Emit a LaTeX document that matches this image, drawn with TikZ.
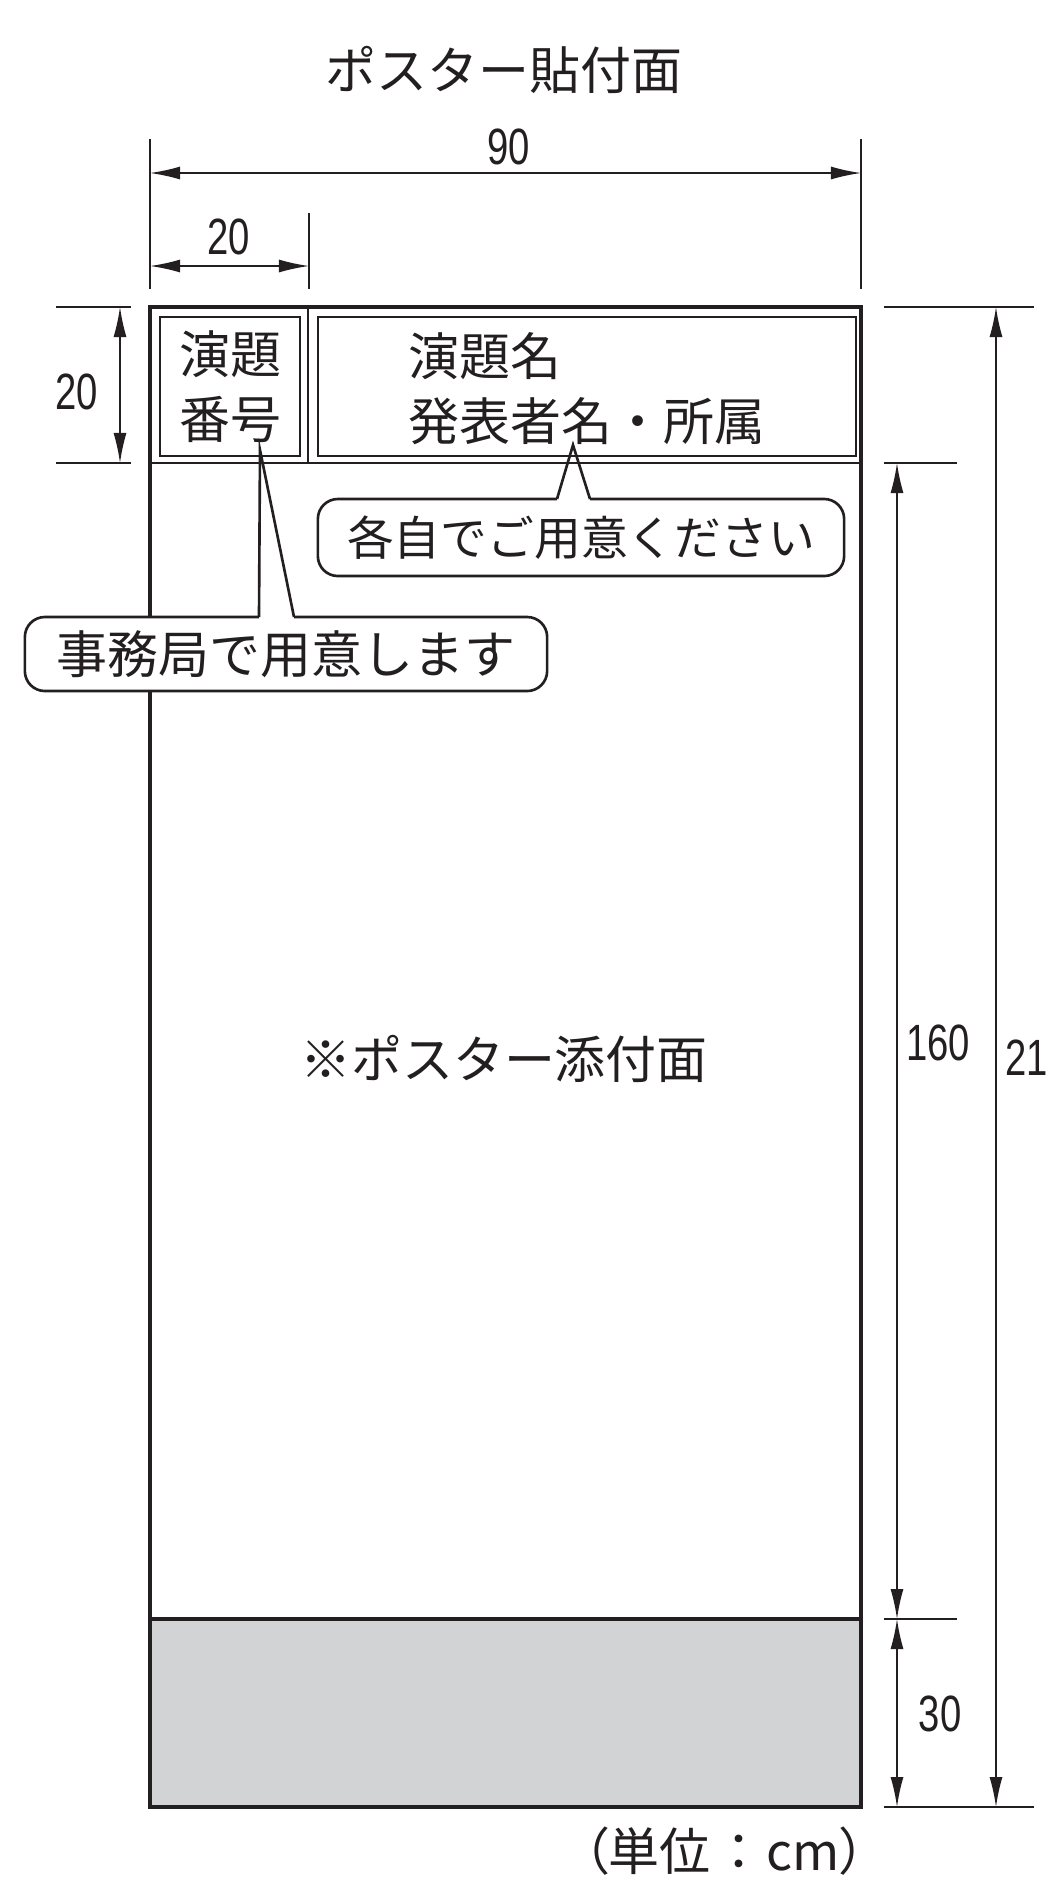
\documentclass[tikz,border=0pt]{standalone}
\usepackage{fontspec}
\newfontfamily\jpfont{Noto Sans CJK JP}
\newfontfamily\jpfontp[RawFeature=+palt]{Noto Sans CJK JP}
\newfontfamily\numfont[FakeStretch=0.75]{Liberation Sans}
\usepackage{tikz}
\usetikzlibrary{arrows.meta,positioning}
\usepackage{xcolor}
\definecolor{pgray}{RGB}{209,211,212}
\definecolor{pline}{RGB}{35,31,32}
\tikzstyle{board} = [line width=1pt, color=pline]
\tikzstyle{thinline} = [line width=0.45pt, color=pline]
\tikzstyle{thinbox} = [rectangle, draw=pline, line width=0.45pt, inner sep=0pt]
\tikzstyle{extline} = [line width=0.4pt, color=pline]
\tikzstyle{dimline} = [line width=0.45pt, color=pline, {Latex[length=3mm,width=1.3mm]}-{Latex[length=3mm,width=1.3mm]}]
\tikzstyle{dimlabel} = [font=\numfont\fontsize{14.5}{16}\selectfont, inner sep=0pt, text=pline]
\tikzstyle{jptext} = [font=\jpfont\fontsize{14.5}{18.5}\selectfont, inner sep=0pt, text=pline]
\tikzstyle{callout} = [rectangle, rounded corners=0.2cm, draw=pline, line width=0.75pt, fill=white, inner sep=0pt]

\begin{document}
\begin{tikzpicture}[x=0.01cm, y=-0.01cm]
\useasboundingbox (0,0) rectangle (1051,1902);

% Board corners
\coordinate (tl) at (150,307);
\coordinate (tr) at (861,307);
\coordinate (bl) at (150,1807);
\coordinate (br) at (861,1807);
\coordinate (hl) at (150,463);
\coordinate (hr) at (861,463);
\coordinate (gl) at (150,1619);
\coordinate (gr) at (861,1619);

% Title
\node (title) [jptext] at (504,70) {ポスター貼付面};

% Gray base strip
\fill[pgray] (gl) rectangle (br);

% Header row
\coordinate (divt) at (308,307);
\coordinate (divb) at (308,463);
\draw[thinline] (hl) -- (hr);
\draw[thinline] (divt) -- (divb);
\node (numbox) [thinbox, minimum width=1.4cm, minimum height=1.39cm] at (230,386.5) {};
\node (namebox) [thinbox, minimum width=5.38cm, minimum height=1.39cm] at (587,386.5) {};
\node (numtext) [jptext, align=center] at (numbox) {演題\\番号};
\node (nametext) [jptext, align=left, anchor=west] at (408,388.5) {演題名\\発表者名・所属};

% Board outline
\draw[board] (tl) rectangle (br);
\draw[board] (gl) -- (gr);

% Main area
\node (mainarea) [jptext] at (504,1059) {※ポスター添付面};

% Callouts
\node (selfnote) [callout, minimum width=5.26cm, minimum height=0.77cm] at (581,537.5) {};
\node (selftext) [jptext, font=\jpfont\fontsize{13.3}{16}\selectfont] at (selfnote) {各自でご用意ください};
\coordinate (selfapex) at (573,445);
\coordinate (selfa) at (557,499);
\coordinate (selfb) at (590,499);
\draw[white, line width=2pt] (selfa) -- (selfb);
\draw[thinline, line width=0.75pt] (selfa) -- (selfapex) -- (selfb);

\node (officenote) [callout, minimum width=5.22cm, minimum height=0.74cm] at (286,654) {};
\node (officetext) [jptext] at (officenote) {事務局で用意します};
\coordinate (officeapex) at (260,450);
\coordinate (officea) at (259,617);
\coordinate (officeb) at (294,617);
\draw[white, line width=2pt] (officea) -- (officeb);
\draw[thinline, line width=0.75pt] (officea) -- (officeapex) -- (officeb);

% Extension lines
\draw[extline] (150,139) -- (150,289);
\draw[extline] (309,213) -- (309,289);
\draw[extline] (861,139) -- (861,289);
\draw[extline] (56,307) -- (131,307);
\draw[extline] (56,463) -- (131,463);
\draw[extline] (884,307) -- (1034,307);
\draw[extline] (884,463) -- (957,463);
\draw[extline] (884,1619) -- (957,1619);
\draw[extline] (884,1807) -- (1034,1807);

% Dimensions
\coordinate (w90a) at (150,173);
\coordinate (w90b) at (861,173);
\coordinate (w20a) at (150,266);
\coordinate (w20b) at (309,266);
\coordinate (h20a) at (120,307);
\coordinate (h20b) at (120,463);
\coordinate (h160a) at (897,463);
\coordinate (h160b) at (897,1619);
\coordinate (h30a) at (897,1619);
\coordinate (h30b) at (897,1807);
\coordinate (h210a) at (996,307);
\coordinate (h210b) at (996,1807);
\draw[dimline] (w90a) -- (w90b);
\draw[dimline] (w20a) -- (w20b);
\draw[dimline] (h20a) -- (h20b);
\draw[dimline] (h160a) -- (h160b);
\draw[dimline] (h30a) -- (h30b);
\draw[dimline] (h210a) -- (h210b);

\node (l90) [dimlabel] at (509,147) {90};
\node (l20w) [dimlabel] at (229,237) {20};
\node (l20h) [dimlabel] at (77,392) {20};
\node (l160) [dimlabel] at (938,1043) {160};
\node (l30) [dimlabel] at (940,1714) {30};
\node (l210) [dimlabel, anchor=west] at (1005,1058) {21};

% Unit
\node (unit) [jptext, font=\jpfontp\fontsize{14.5}{18.5}\selectfont, anchor=east] at (866,1851) {（単位\hspace{0.3em}：\hspace{0.3em}cm）};
\end{tikzpicture}
\end{document}
